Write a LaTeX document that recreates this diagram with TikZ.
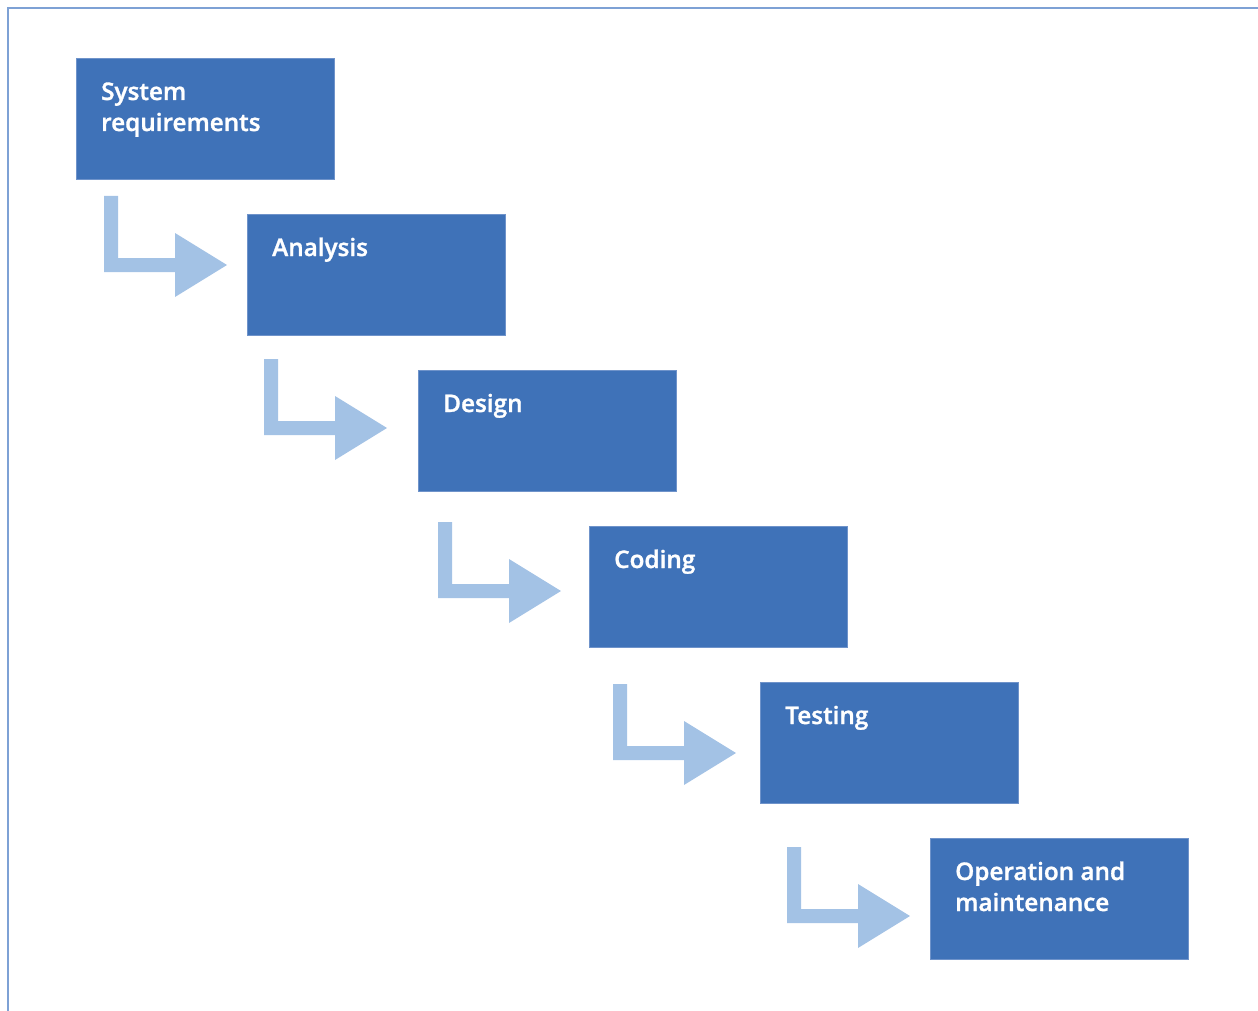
\documentclass[tikz,border=0pt]{standalone}
\usepackage{fontspec}
\newfontfamily\stagefont{Open Sans Semibold}[FakeBold=1.2]
\definecolor{boxblue}{HTML}{3F72B8}
\definecolor{boxedge}{HTML}{6F93CA}
\definecolor{arrowblue}{HTML}{A3C2E5}
\definecolor{frameblue}{HTML}{7EA1D5}
\tikzset{
  stagebox/.style={rectangle, fill=boxblue, draw=boxedge, line width=0.6pt,
    minimum width=258pt, minimum height=121pt, inner sep=0pt, anchor=north west},
  stagetext/.style={text=white, font=\stagefont\fontsize{24.3}{31}\selectfont,
    align=left, inner sep=0pt, anchor=base west},
  bentarrow/.style={fill=arrowblue, draw=none},
  framerule/.style={draw=frameblue, line width=1.4pt}
}
\newcommand{\bentarrowat}[2]{%
  \fill[bentarrow] (#1,#2) -- ++(14,0) -- ++(0,62) -- ++(57,0) -- ++(0,-25)
    -- ++(52,32) -- ++(-52,32) -- ++(0,-25) -- ++(-71,0) -- cycle;}
\begin{document}
\begin{tikzpicture}[x=1pt,y=-1pt]
\useasboundingbox (0,0) rectangle (1258,1011);
\draw[framerule] (1258,8) -- (8,8) -- (8,1011);

\node[stagebox] (b1) at (76,58) {};
\node[stagebox] (b2) at (247,214) {};
\node[stagebox] (b3) at (418,370) {};
\node[stagebox] (b4) at (589,526) {};
\node[stagebox] (b5) at (760,682) {};
\node[stagebox] (b6) at (930,838) {};

\node[stagetext] (t1) at ([xshift=25pt,yshift=-73pt]b1.north west) {System\\requirements};
\node[stagetext] (t2) at ([xshift=25pt,yshift=-42pt]b2.north west) {Analysis};
\node[stagetext] (t3) at ([xshift=25pt,yshift=-42pt]b3.north west) {Design};
\node[stagetext] (t4) at ([xshift=25pt,yshift=-42pt]b4.north west) {Coding};
\node[stagetext] (t5) at ([xshift=25pt,yshift=-42pt]b5.north west) {Testing};
\node[stagetext] (t6) at ([xshift=25pt,yshift=-73pt]b6.north west) {Operation and\\maintenance};

\bentarrowat{104}{196}
\bentarrowat{264}{359}
\bentarrowat{438}{522}
\bentarrowat{613}{684}
\bentarrowat{787}{847}
\end{tikzpicture}
\end{document}
